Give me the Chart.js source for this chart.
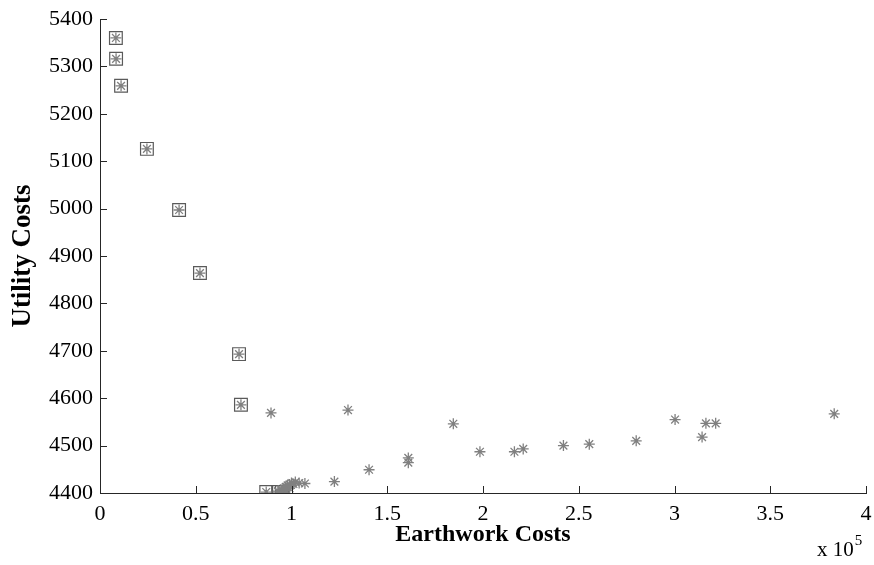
<!DOCTYPE html>
<html>
<head>
<meta charset="utf-8">
<script src="https://cdn.jsdelivr.net/npm/chart.js@4/dist/chart.umd.min.js"></script>
<style>
  html, body { margin: 0; padding: 0; background: #fff; }
  #wrap { width: 874px; height: 565px; }
</style>
</head>
<body>
<div id="wrap"><canvas id="c" width="874" height="565"></canvas></div>
<script>
// ---- data ----
const xTitle = 'Earthwork Costs';
const yTitle = 'Utility Costs';
const xExponentBase = 'x 10';
const xExponent = '5';
const xTickLabels = ['0', '0.5', '1', '1.5', '2', '2.5', '3', '3.5', '4'];
const yTickLabels = ['4400', '4500', '4600', '4700', '4800', '4900', '5000', '5100', '5200', '5300', '5400'];

// Pareto-optimal solutions (boxed)
const paretoEarthwork = [8300, 8400, 11000, 24500, 41300, 52200, 72600, 73600, 86800, 93000, 95000];
const paretoUtility   = [5360, 5316, 5259, 5126, 4997, 4864, 4693, 4586, 4402, 4402, 4402];

// All other solutions
const otherEarthwork = [89300, 129500, 161000, 161000, 140500, 122400,
  93000, 95000, 96000, 97000, 98000, 99000, 100000, 101000, 102000, 104000, 107000, 97000, 99000,
  184500, 198400, 216400, 221000, 242000, 255500, 280000, 300300, 314400, 316400, 321500, 383400];
const otherUtility = [4569, 4575, 4474, 4464, 4449, 4424,
  4404, 4407, 4410, 4413, 4416, 4418, 4421, 4419, 4423, 4421, 4420, 4405, 4410,
  4546, 4487, 4487, 4493, 4500, 4503, 4510, 4555, 4518, 4547, 4547, 4567];

const toPoints = (xs, ys) => xs.map((x, i) => ({ x: x, y: ys[i] }));

const FONT = 'Liberation Serif';

const inwardTicks = {
  id: 'inwardTicks',
  afterDatasetsDraw(chart) {
    const ctx = chart.ctx;
    const xs = chart.scales.x, ys = chart.scales.y;
    const len = 7;
    ctx.save();
    ctx.strokeStyle = '#262626';
    ctx.lineWidth = 1;
    ctx.beginPath();
    xs.ticks.forEach(t => {
      const px = Math.round(xs.getPixelForValue(t.value)) + 0.5;
      ctx.moveTo(px, ys.bottom);
      ctx.lineTo(px, ys.bottom - len);
    });
    ys.ticks.forEach(t => {
      const py = Math.round(ys.getPixelForValue(t.value)) + 0.5;
      ctx.moveTo(xs.left, py);
      ctx.lineTo(xs.left + len, py);
    });
    ctx.stroke();
    // exponent label
    ctx.fillStyle = '#000';
    ctx.textBaseline = 'alphabetic';
    ctx.textAlign = 'left';
    ctx.font = '21px "' + FONT + '"';
    const bx = 817, by = 556;
    ctx.fillText(xExponentBase, bx, by);
    const w = ctx.measureText(xExponentBase).width;
    ctx.font = '15px "' + FONT + '"';
    ctx.fillText(xExponent, bx + w + 1, by - 11);
    ctx.restore();
  }
};

new Chart(document.getElementById('c'), {
  type: 'scatter',
  data: {
    datasets: [
      {
        label: 'Solutions',
        data: toPoints(otherEarthwork, otherUtility).concat(toPoints(paretoEarthwork, paretoUtility)),
        pointStyle: 'star',
        radius: 5.5,
        borderColor: '#808080',
        backgroundColor: '#808080',
        borderWidth: 1.3
      },
      {
        label: 'Pareto front',
        data: toPoints(paretoEarthwork, paretoUtility),
        pointStyle: 'rect',
        radius: 9,
        borderColor: '#5a5a5a',
        backgroundColor: 'rgba(0,0,0,0)',
        borderWidth: 1.2
      }
    ]
  },
  options: {
    responsive: false,
    animation: false,
    events: [],
    layout: { autoPadding: false, padding: { top: 19, right: 8, left: 0, bottom: 0 } },
    plugins: { legend: { display: false }, tooltip: { enabled: false } },
    scales: {
      x: {
        type: 'linear',
        min: 0, max: 400000,
        afterFit: s => { s.height = 72; s.paddingLeft = 0; s.paddingRight = 0; },
        afterBuildTicks: s => { s.ticks = xTickLabels.map((l, i) => ({ value: i * 50000 })); },
        border: { display: true, color: '#262626', width: 1 },
        grid: { display: false, drawTicks: false },
        ticks: {
          padding: 8,
          color: '#000',
          maxRotation: 0,
          autoSkip: false,
          font: { family: FONT, size: 22 },
          callback: (v, i) => xTickLabels[i]
        },
        title: {
          display: true,
          text: xTitle,
          color: '#000',
          font: { family: FONT, size: 24, weight: 'bold' },
          padding: { top: 0, bottom: 16 }
        }
      },
      y: {
        type: 'linear',
        min: 4400, max: 5400,
        afterFit: s => { s.width = 100; s.paddingTop = 0; s.paddingBottom = 0; },
        afterBuildTicks: s => { s.ticks = yTickLabels.map(l => ({ value: Number(l) })); },
        border: { display: true, color: '#262626', width: 1 },
        grid: { display: false, drawTicks: false },
        ticks: {
          padding: 7,
          color: '#000',
          autoSkip: false,
          font: { family: FONT, size: 22 },
          callback: (v, i) => yTickLabels[i]
        },
        title: {
          display: true,
          text: yTitle,
          color: '#000',
          font: { family: FONT, size: 27, weight: 'bold' },
          padding: { top: 7, bottom: 0 }
        }
      }
    }
  },
  plugins: [inwardTicks]
});
</script>
</body>
</html>
